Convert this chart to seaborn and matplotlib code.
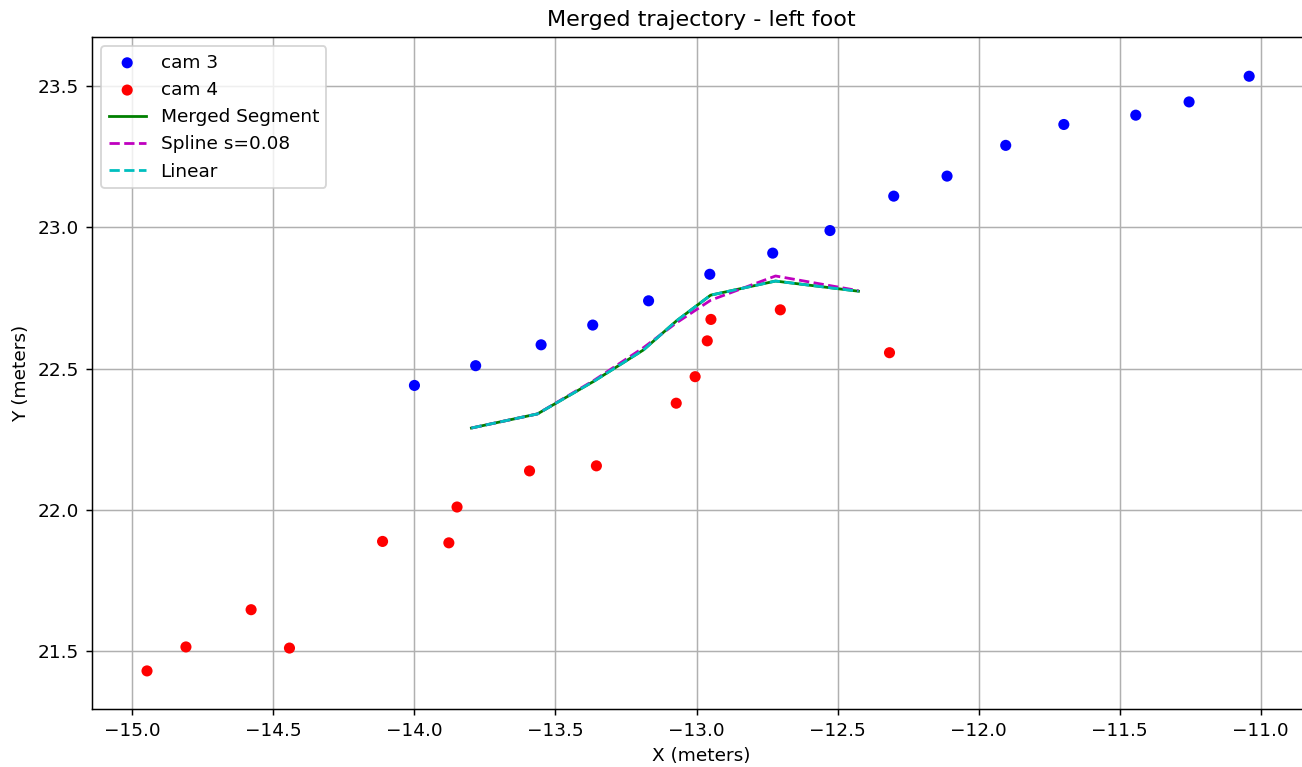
import matplotlib
matplotlib.use("Agg")
import matplotlib.pyplot as plt
import seaborn as sns
import numpy as np

# Camera 3 detections of the left foot (metres)
cam3_x = [-14.000, -13.783, -13.551, -13.368, -13.170, -12.953, -12.730, -12.527,
          -12.301, -12.112, -11.904, -11.698, -11.443, -11.254, -11.041]
cam3_y = [22.440, 22.510, 22.584, 22.654, 22.740, 22.834, 22.909, 22.989,
          23.111, 23.182, 23.291, 23.365, 23.398, 23.445, 23.536]

# Camera 4 detections of the left foot (metres)
cam4_x = [-14.948, -14.810, -14.579, -14.443, -14.113, -13.878, -13.849, -13.592,
          -13.355, -13.072, -13.005, -12.962, -12.949, -12.703, -12.316]
cam4_y = [21.428, 21.513, 21.645, 21.509, 21.887, 21.882, 22.009, 22.137,
          22.155, 22.377, 22.471, 22.598, 22.674, 22.708, 22.556]

# Merged segment and its smoothed versions
merged_x = [-13.798, -13.564, -13.362, -13.188, -13.071, -12.950, -12.720, -12.426]
merged_y = [22.289, 22.339, 22.456, 22.566, 22.669, 22.760, 22.810, 22.774]
spline_y = [22.289, 22.339, 22.459, 22.574, 22.662, 22.742, 22.828, 22.776]
spline_s = 0.08

DPI = 133.33
W, H = 1302, 767
fig = plt.figure(figsize=(W / DPI, H / DPI), dpi=DPI)
ax = fig.add_axes([92 / W, 1 - 709 / H, (1310 - 92) / W, (709 - 37) / H])

sns.scatterplot(x=cam3_x, y=cam3_y, color="b", s=36, edgecolor="none",
                label="cam 3", ax=ax, zorder=2)
sns.scatterplot(x=cam4_x, y=cam4_y, color="r", s=36, edgecolor="none",
                label="cam 4", ax=ax, zorder=2)
sns.lineplot(x=merged_x, y=merged_y, color="g", linestyle="-", linewidth=1.5,
             label="Merged Segment", ax=ax, sort=False, zorder=3)
sns.lineplot(x=merged_x, y=spline_y, color="m", linestyle="--", linewidth=1.5,
             label=f"Spline s={spline_s}", ax=ax, sort=False, zorder=3)
lin_x = np.array(merged_x)
lin_y = np.interp(lin_x, merged_x, merged_y)
sns.lineplot(x=lin_x, y=lin_y, color="c", linestyle="--", linewidth=1.5,
             label="Linear", ax=ax, sort=False, zorder=3)

# equal scale on both axes: 282 px per metre
ppm = 282.1
x0 = -15.143
ax.set_xlim(x0, x0 + (1310 - 92) / ppm)
ax.set_ylim(21.293, 21.293 + (709 - 37) / ppm)
ax.set_xticks(np.arange(-15.0, -10.99, 0.5))
ax.set_yticks(np.arange(21.5, 23.51, 0.5))
ax.grid(True, color="#b0b0b0", linewidth=0.8)
ax.set_axisbelow(True)

ax.set_title("Merged trajectory - left foot", fontsize=12)
ax.set_xlabel("X (meters)")
ax.set_ylabel("Y (meters)")
ax.legend(loc="upper left", fontsize=10)

fig.savefig("out.png", dpi=DPI)
